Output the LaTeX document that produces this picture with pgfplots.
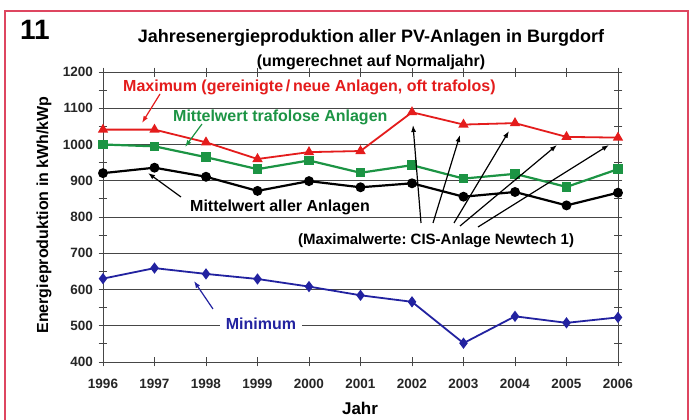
\documentclass[border=0pt]{standalone}
\usepackage{pgfplots}
\pgfplotsset{compat=1.18}
\usetikzlibrary{arrows.meta}
\usepackage{fontspec}
\setmainfont{Liberation Sans}
\frenchspacing
\definecolor{cRed}{RGB}{228,28,28}
\definecolor{cGreen}{RGB}{28,148,68}
\definecolor{cBlue}{RGB}{34,34,160}
\definecolor{cFrame}{RGB}{222,70,96}
\definecolor{cGrid}{RGB}{70,70,70}
\begin{document}
\begin{tikzpicture}
\path[use as bounding box] (0pt,0pt) rectangle (694pt,420pt);
\fill[white] (0pt,0pt) rectangle (694pt,420pt);
\begin{axis}[
  at={(103pt,58pt)}, anchor=south west,
  scale only axis, width=515pt, height=290pt,
  xmin=1996, xmax=2006, ymin=400, ymax=1200,
  xtick={1996,1997,...,2006},
  ytick={400,500,...,1200},
  minor y tick num=1,
  tick align=center,
  major tick length=9pt, minor tick length=9pt,
  every tick/.style={color=cGrid, line width=0.9pt},
  axis line style={color=cGrid, line width=0.9pt},
  ymajorgrids,
  major grid style={color=cGrid, line width=0.9pt},
  /pgf/number format/assume math mode=true,
  /pgf/number format/set thousands separator={},
  tick label style={font=\fontsize{13.5}{15}\selectfont\bfseries, text=black!85},
  xticklabel style={yshift=-9pt},
  yticklabel style={xshift=-2pt},
  clip=false,
]
\addplot[color=cRed, line width=1.8pt, mark=triangle*, mark size=4.2pt,
  mark options={solid, fill=cRed}] coordinates {
  (1996,1041) (1997,1041) (1998,1006) (1999,960) (2000,979) (2001,982)
  (2002,1089) (2003,1055) (2004,1059) (2005,1021) (2006,1019)};
\addplot[color=cGreen, line width=2.2pt, mark=square*, mark size=3.6pt,
  mark options={solid, fill=cGreen}] coordinates {
  (1996,1000) (1997,995) (1998,965) (1999,932) (2000,956) (2001,922)
  (2002,943) (2003,906) (2004,919) (2005,883) (2006,932)};
\addplot[color=black, line width=2.2pt, mark=*, mark size=3.8pt,
  mark options={solid, fill=black}] coordinates {
  (1996,921) (1997,936) (1998,911) (1999,872) (2000,899) (2001,882)
  (2002,893) (2003,856) (2004,869) (2005,832) (2006,867)};
\addplot[color=cBlue, line width=1.8pt, mark=diamond*, mark size=4.2pt,
  mark options={solid, fill=cBlue}] coordinates {
  (1996,630) (1997,659) (1998,643) (1999,629) (2000,608) (2001,584)
  (2002,566) (2003,452) (2004,526) (2005,508) (2006,523)};
\end{axis}
\begin{scope}[x=1pt, y=-1pt, shift={(0pt,420pt)}]
  % frame
  \draw[cFrame, line width=1.4pt] (5,425) -- (5,11) -- (688,11) -- (688,425);
  % number and titles
  \node[font=\fontsize{28}{30}\selectfont\bfseries] at (35,30) {11};
  \node[font=\fontsize{18}{20}\selectfont\bfseries] at (371,38) {Jahresenergieproduktion aller PV-Anlagen in Burgdorf};
  \node[font=\fontsize{16}{18}\selectfont\bfseries] at (371,62) {(umgerechnet auf Normaljahr)};
  % axis labels
  \node[font=\fontsize{16}{18}\selectfont\bfseries, rotate=90] at (44,215) {Energieproduktion in kWh/kWp};
  \node[font=\fontsize{17}{19}\selectfont\bfseries] at (360,408) {Jahr};
  % annotations
  \node[font=\fontsize{16}{18}\selectfont\bfseries, text=cRed, anchor=west, inner sep=0pt] at (123,87) {Maximum (gereinigte\,/\,neue Anlagen, oft trafolos)};
  \draw[cRed, line width=1.2pt, -{Latex[length=7pt,width=5pt]}] (160,94) -- (142,123);
  \node[font=\fontsize{16}{18}\selectfont\bfseries, text=cGreen, anchor=west, inner sep=0pt] at (173,117) {Mittelwert trafolose Anlagen};
  \draw[cGreen, line width=1.2pt, -{Latex[length=7pt,width=5pt]}] (202,124) -- (185,147);
  \node[font=\fontsize{16}{18}\selectfont\bfseries, text=black, anchor=west, inner sep=0pt] at (190,207) {Mittelwert aller Anlagen};
  \draw[black, line width=1.2pt, -{Latex[length=7pt,width=5pt]}] (181,197) -- (148,173);
  \node[font=\fontsize{15}{17}\selectfont\bfseries, text=black, anchor=west, inner sep=0pt] at (298,241) {(Maximalwerte: CIS-Anlage Newtech 1)};
  \foreach \a/\b/\c/\d in {421/223/413/125, 433/223/460/135, 454/223/509/131, 460/226/557/145, 478/227/609/145}
    \draw[black, line width=1.2pt, -{Latex[length=7pt,width=5pt]}] (\a,\b) -- (\c,\d);
  \node[font=\fontsize{16}{18}\selectfont\bfseries, text=cBlue, fill=white, inner xsep=6pt, inner ysep=2pt] at (261,324) {Minimum};
  \draw[cBlue, line width=1.2pt, -{Latex[length=7pt,width=5pt]}] (213,309) -- (194,281);
\end{scope}
\end{tikzpicture}
\end{document}
